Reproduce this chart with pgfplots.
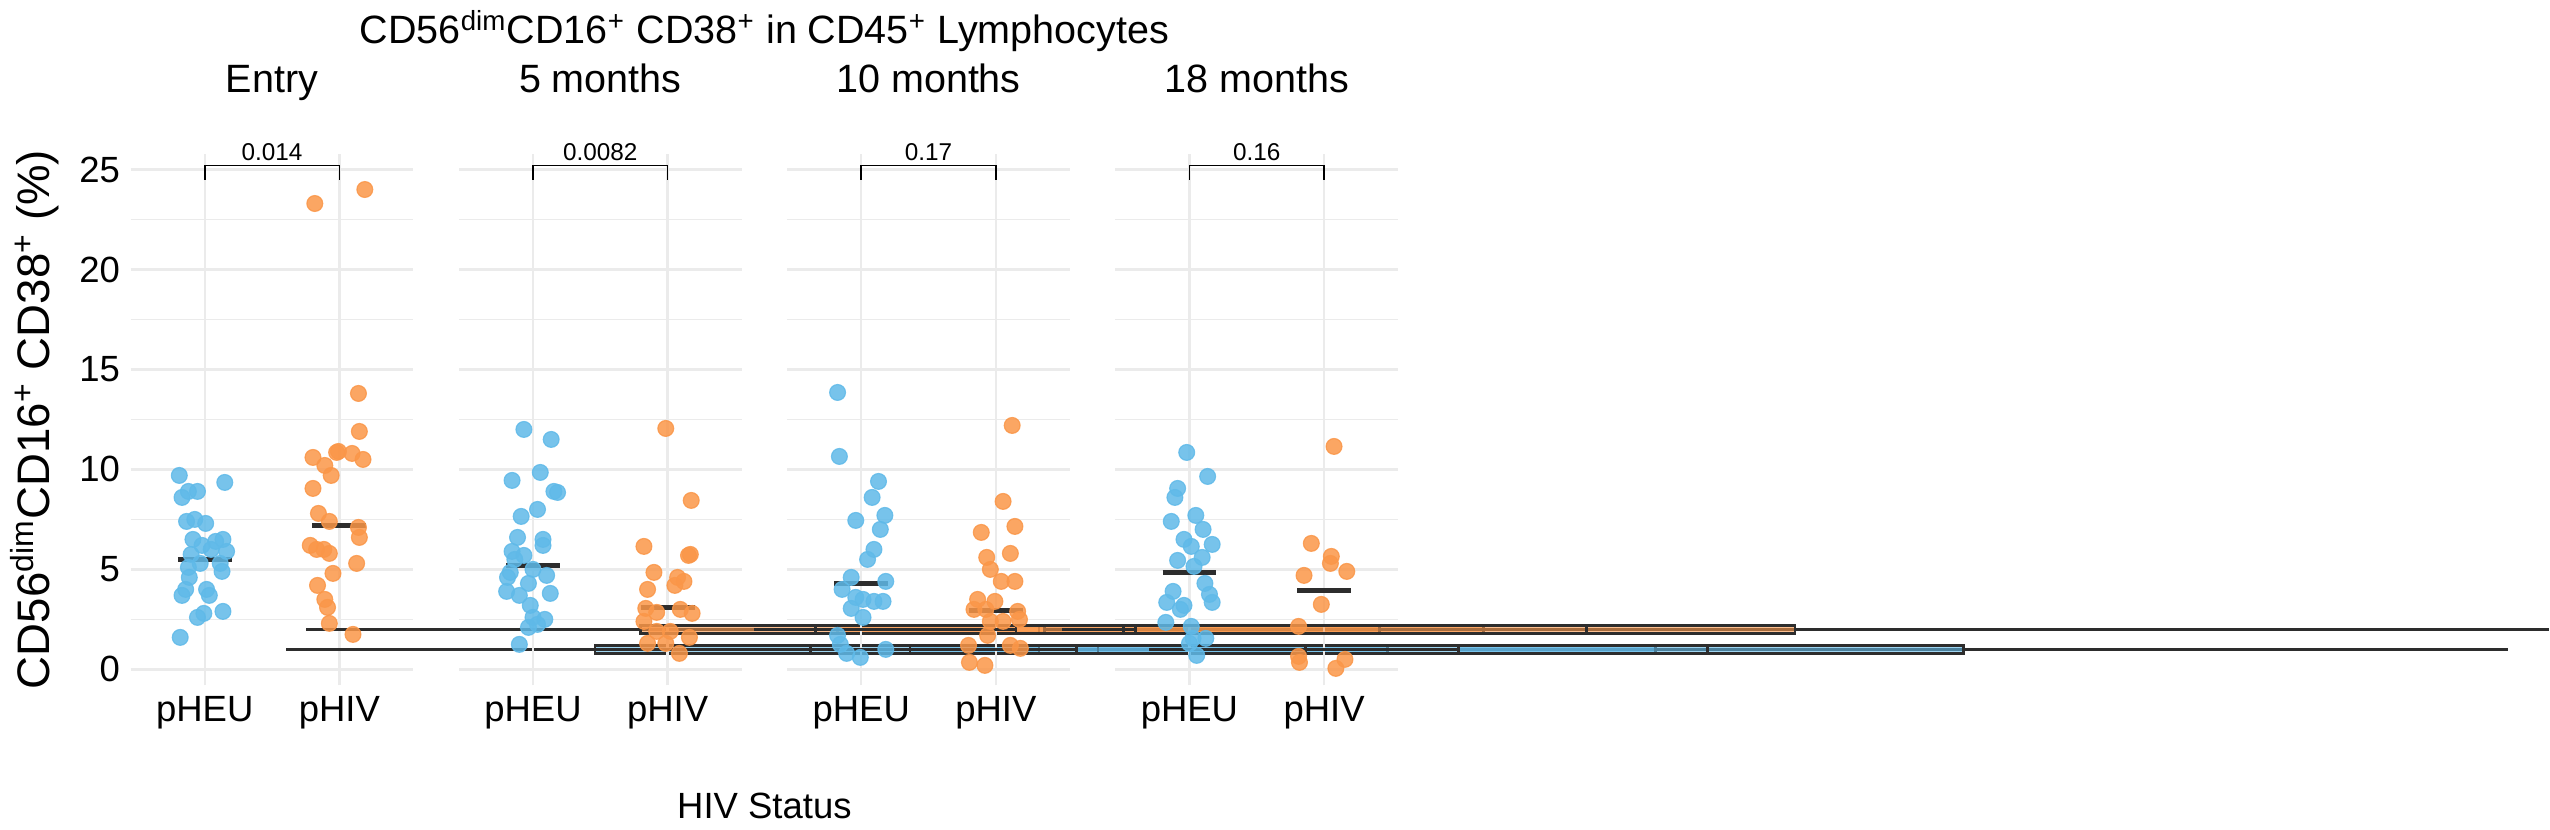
\documentclass[border=0pt]{standalone}
\usepackage{pgfplots}
\pgfplotsset{compat=1.18}
\usepgfplotslibrary{groupplots,statistics}
\usepackage{fontspec}
\setmainfont{Liberation Sans}
\definecolor{cb}{RGB}{95,185,232}
\definecolor{co}{RGB}{250,150,72}
\definecolor{gl}{RGB}{235,235,235}
\definecolor{bx}{RGB}{45,45,45}
\newcommand{\bxp}[7]{% pos,q1,med,q3,lw,uw,color
 \addplot[boxplot prepared={draw position=#1,lower quartile=#2,median=#3,upper quartile=#4,lower whisker=#5,upper whisker=#6,box extend=0.4,whisker extend=0},draw=bx,line width=0.8pt,fill=#7,fill opacity=0.6,solid,mark=none] coordinates {};
 \draw[bx,line width=1.8pt] (axis cs:#1-0.2,#3) -- (axis cs:#1+0.2,#3);}
\newcommand{\sig}[1]{\draw[black,line width=0.5pt] (axis cs:1,24.5)--(axis cs:1,25.2)--(axis cs:2,25.2)--(axis cs:2,24.5);
 \node[above,font=\fontsize{8}{9}\selectfont,inner sep=1.5pt] at (axis cs:1.5,25.2) {#1};}
\pgfplotsset{pts/.style={only marks,mark=*,mark size=2.6pt,mark options={draw=none},opacity=0.85}}
\begin{document}
\begin{tikzpicture}
\begin{groupplot}[group style={group size=4 by 1,horizontal sep=15pt,yticklabels at=edge left},
 scale only axis,width=93pt,height=175pt,xmin=0.45,xmax=2.55,ymin=-0.8,ymax=25.8,clip=false,
 axis line style={draw=none},tick style={draw=none},
 xtick={1,2},xticklabels={pHEU,pHIV},ytick={0,5,10,15,20,25},minor ytick={2.5,7.5,12.5,17.5,22.5},
 grid=both,major grid style={gl,line width=0.8pt},minor grid style={gl,line width=0.5pt},
 ticklabel style={font=\fontsize{12}{14}\selectfont},
 /pgf/number format/assume math mode=true,
 title style={font=\fontsize{13}{15}\selectfont,at={(0.5,1)},anchor=south,yshift=9pt,text height=1.6ex,text depth=0.3ex}]
\nextgroupplot[title={Entry},ylabel={CD56\textsuperscript{dim}CD16\textsuperscript{+} CD38\textsuperscript{+} (\%)},ylabel style={font=\fontsize{15}{17}\selectfont}]
\bxp{1}{3.9}{5.5}{7.2}{1.6}{9.7}{cb}
\bxp{2}{5.7}{7.2}{10.5}{1.75}{13.8}{co}
\addplot[pts,cb] table[x expr=1+\thisrow{d}/148,y=y]{
d y
-28 9.7
-25 8.6
-18 8.9
-8 8.9
22 9.35
-20 7.4
-11 7.5
1 7.3
-13 6.5
12 6.4
20 6.5
24 5.9
7 6.0
-3 6.2
-15 5.75
-18 5.1
-5 5.3
17 5.3
-17 4.6
19 4.9
-25 3.7
5 3.7
-21 4.0
2 4.0
-1 2.8
-8 2.6
20 2.9
-27 1.6
};
\addplot[pts,co] table[x expr=2+\thisrow{d}/148,y=y]{
d y
28 24.0
-27 23.3
21 13.8
22 11.9
-29 10.6
-1 10.9
-3 10.85
14 10.8
26 10.5
-16 10.2
-9 9.7
-29 9.05
-23 7.8
-11 7.4
21 7.1
22 6.6
-32 6.2
-25 6.0
-17 6.0
-11 5.8
19 5.3
-7 4.8
-24 4.2
-16 3.5
-13 3.1
-11 2.3
15 1.75
};
\sig{0.014}
\nextgroupplot[title={5 months}]
\bxp{1}{3.8}{5.2}{7.35}{1.25}{12.0}{cb}
\bxp{2}{1.8}{3.1}{4.8}{0.8}{8.4}{co}
\addplot[pts,cb] table[x expr=1+\thisrow{d}/148,y=y]{
d y
-10 12.0
20 11.5
-23 9.45
8 9.85
23 8.9
27 8.85
5 8.0
-13 7.65
-17 6.6
11 6.5
11 6.2
-23 5.9
-20 5.5
-10 5.7
-25 4.85
0 5.0
15 4.7
-28 4.6
-5 4.3
-29 3.9
-15 3.7
19 3.8
-3 3.2
0 2.6
13 2.5
-5 2.1
5 2.25
-15 1.25
};
\addplot[pts,co] table[x expr=2+\thisrow{d}/148,y=y]{
d y
-2 12.05
26 8.45
-26 6.15
25 5.75
23 5.7
-15 4.85
11 4.6
-22 4.0
18 4.4
8 4.2
-24 3.05
-12 2.85
14 3.0
27 2.8
-26 2.4
-12 1.9
3 1.9
-22 1.3
-2 1.3
24 1.6
13 0.8
};
\sig{0.0082}
\nextgroupplot[title={10 months}]
\bxp{1}{2.6}{4.3}{6.9}{0.6}{10.6}{cb}
\bxp{2}{2.15}{2.95}{4.85}{0.2}{8.3}{co}
\addplot[pts,cb] table[x expr=1+\thisrow{d}/148,y=y]{
d y
-26 13.85
-24 10.65
19 9.4
12 8.6
26 7.7
-6 7.45
21 7.0
14 6.0
7 5.5
-11 4.6
27 4.4
-21 4.0
-6 3.6
2 3.5
14 3.4
24 3.4
-11 3.05
2 2.6
-26 1.7
-23 1.25
-16 0.8
-1 0.6
27 1.0
};
\addplot[pts,co] table[x expr=2+\thisrow{d}/148,y=y]{
d y
18 12.2
8 8.4
21 7.15
-16 6.85
16 5.8
-10 5.6
-6 5.0
6 4.4
21 4.4
-20 3.5
-1 3.4
-11 3.0
-24 3.0
24 2.9
-6 2.4
26 2.5
8 2.4
-9 1.7
-30 1.2
16 1.2
27 1.05
-29 0.35
-12 0.2
};
\sig{0.17}
\nextgroupplot[title={18 months}]
\bxp{1}{3.0}{4.85}{6.75}{0.7}{10.8}{cb}
\bxp{2}{0.6}{3.95}{5.5}{0.05}{11.1}{co}
\addplot[pts,cb] table[x expr=1+\thisrow{d}/148,y=y]{
d y
-3 10.85
20 9.65
-13 9.05
-16 8.6
7 7.7
-20 7.4
15 7.0
-6 6.5
25 6.25
2 6.15
14 5.6
-13 5.45
5 5.15
17 4.3
-18 3.9
22 3.75
-25 3.35
-6 3.2
25 3.35
-10 3.0
-26 2.35
2 2.15
4 1.55
18 1.55
0 1.3
8 0.7
};
\addplot[pts,co] table[x expr=2+\thisrow{d}/148,y=y]{
d y
11 11.15
-14 6.3
8 5.65
7 5.3
25 4.9
-22 4.7
-3 3.25
-28 2.15
-28 0.65
-27 0.35
23 0.5
13 0.05
};
\sig{0.16}
\end{groupplot}
\node[font=\fontsize{12}{14}\selectfont,anchor=north] at ([yshift=-32pt]$(group c2r1.south east)!0.5!(group c3r1.south west)$) {HIV Status};
\node[font=\fontsize{13}{15}\selectfont,anchor=south] at ([yshift=30pt]$(group c2r1.north east)!0.5!(group c3r1.north west)$) {CD56\textsuperscript{dim}CD16\textsuperscript{+} CD38\textsuperscript{+} in CD45\textsuperscript{+} Lymphocytes};
\end{tikzpicture}
\end{document}
